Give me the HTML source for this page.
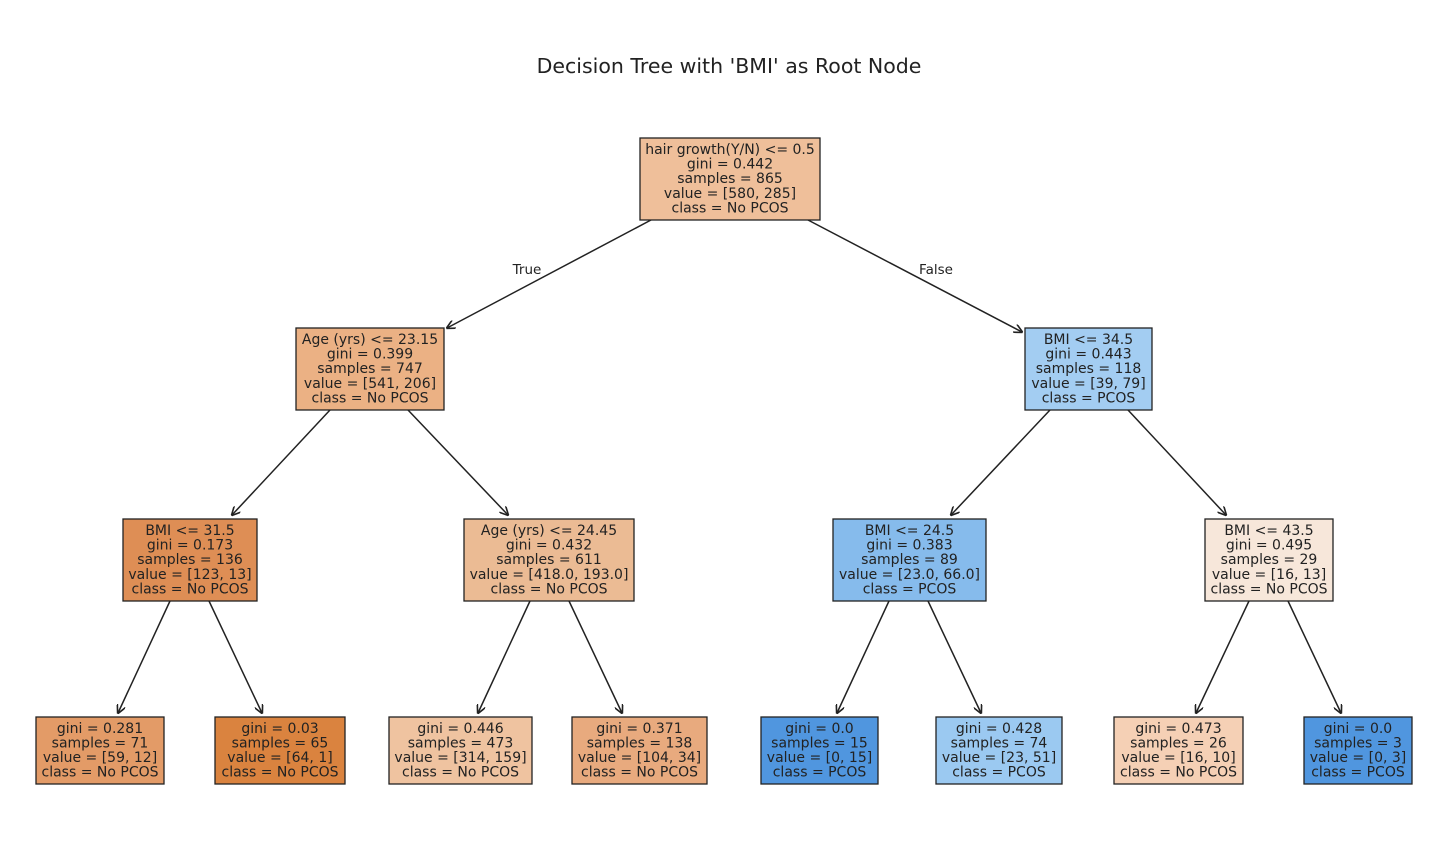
<!DOCTYPE html>
<html><head><meta charset="utf-8"><style>
html,body{margin:0;padding:0;background:#fff;}
svg{display:block;}
text{font-family:"DejaVu Sans","Liberation Sans",sans-serif;fill:#222;}
</style></head><body>
<svg width="1452" height="844" viewBox="0 0 1452 844" xmlns="http://www.w3.org/2000/svg">
<defs><marker id="a" viewBox="0 0 10 10" refX="9" refY="5" markerWidth="9" markerHeight="9" orient="auto-start-reverse" markerUnits="userSpaceOnUse"><path d="M0,0 L10,5 L0,10" fill="none" stroke="#222" stroke-width="1.8"/></marker></defs>
<rect width="1452" height="844" fill="#fff"/>
<text x="729" y="73" font-size="20.5" text-anchor="middle">Decision Tree with 'BMI' as Root Node</text>
<g stroke="#222" stroke-width="1.5" marker-end="url(#a)">
<line x1="651" y1="220" x2="447" y2="328"/>
<line x1="808" y1="220" x2="1022" y2="332"/>
<line x1="330" y1="410" x2="232" y2="515"/>
<line x1="408" y1="410" x2="508" y2="515"/>
<line x1="1050" y1="410" x2="951" y2="515"/>
<line x1="1128" y1="410" x2="1226" y2="515"/>
<line x1="170" y1="601" x2="118" y2="713"/>
<line x1="209" y1="601" x2="262" y2="713"/>
<line x1="530" y1="601" x2="478" y2="713"/>
<line x1="569" y1="601" x2="622" y2="713"/>
<line x1="889" y1="601" x2="837" y2="713"/>
<line x1="928" y1="601" x2="981" y2="713"/>
<line x1="1249" y1="601" x2="1196" y2="713"/>
<line x1="1288" y1="601" x2="1341" y2="713"/>
</g>
<text x="527" y="274" font-size="13.5" text-anchor="middle">True</text>
<text x="936" y="274" font-size="13.5" text-anchor="middle">False</text>
<g stroke="#222" stroke-width="1.3">
<rect x="640" y="138" width="180" height="82" fill="#efbf9a"/>
<rect x="296" y="328" width="148" height="82" fill="#ebb184"/>
<rect x="1025" y="328" width="127" height="82" fill="#a3cdf2"/>
<rect x="123" y="519" width="134" height="82" fill="#de8e55"/>
<rect x="464" y="519" width="170" height="82" fill="#ebbb94"/>
<rect x="833" y="519" width="153" height="82" fill="#86bbec"/>
<rect x="1205" y="519" width="128" height="82" fill="#f7e7da"/>
<rect x="36" y="717" width="128" height="67" fill="#e39b67"/>
<rect x="215" y="717" width="130" height="67" fill="#da833f"/>
<rect x="389" y="717" width="143" height="67" fill="#efc3a0"/>
<rect x="572" y="717" width="135" height="67" fill="#e8aa7e"/>
<rect x="761" y="717" width="117" height="67" fill="#5096df"/>
<rect x="936" y="717" width="126" height="67" fill="#9bc9f1"/>
<rect x="1114" y="717" width="129" height="67" fill="#f5d0b5"/>
<rect x="1304" y="717" width="108" height="67" fill="#5096df"/>
</g>
<g font-size="14" text-anchor="middle">
<text x="730" y="154">hair growth(Y/N) &lt;= 0.5</text><text x="730" y="168.5">gini = 0.442</text><text x="730" y="183">samples = 865</text><text x="730" y="198">value = [580, 285]</text><text x="730" y="212.5">class = No PCOS</text>
<text x="370" y="344">Age (yrs) &lt;= 23.15</text><text x="370" y="358.5">gini = 0.399</text><text x="370" y="373">samples = 747</text><text x="370" y="388">value = [541, 206]</text><text x="370" y="402.5">class = No PCOS</text>
<text x="1088.5" y="344">BMI &lt;= 34.5</text><text x="1088.5" y="358.5">gini = 0.443</text><text x="1088.5" y="373">samples = 118</text><text x="1088.5" y="388">value = [39, 79]</text><text x="1088.5" y="402.5">class = PCOS</text>
<text x="190" y="535">BMI &lt;= 31.5</text><text x="190" y="549.5">gini = 0.173</text><text x="190" y="564">samples = 136</text><text x="190" y="579">value = [123, 13]</text><text x="190" y="593.5">class = No PCOS</text>
<text x="549" y="535">Age (yrs) &lt;= 24.45</text><text x="549" y="549.5">gini = 0.432</text><text x="549" y="564">samples = 611</text><text x="549" y="579">value = [418.0, 193.0]</text><text x="549" y="593.5">class = No PCOS</text>
<text x="909.5" y="535">BMI &lt;= 24.5</text><text x="909.5" y="549.5">gini = 0.383</text><text x="909.5" y="564">samples = 89</text><text x="909.5" y="579">value = [23.0, 66.0]</text><text x="909.5" y="593.5">class = PCOS</text>
<text x="1269" y="535">BMI &lt;= 43.5</text><text x="1269" y="549.5">gini = 0.495</text><text x="1269" y="564">samples = 29</text><text x="1269" y="579">value = [16, 13]</text><text x="1269" y="593.5">class = No PCOS</text>
<text x="100" y="733">gini = 0.281</text><text x="100" y="747.5">samples = 71</text><text x="100" y="762">value = [59, 12]</text><text x="100" y="776.5">class = No PCOS</text>
<text x="280" y="733">gini = 0.03</text><text x="280" y="747.5">samples = 65</text><text x="280" y="762">value = [64, 1]</text><text x="280" y="776.5">class = No PCOS</text>
<text x="460.5" y="733">gini = 0.446</text><text x="460.5" y="747.5">samples = 473</text><text x="460.5" y="762">value = [314, 159]</text><text x="460.5" y="776.5">class = No PCOS</text>
<text x="639.5" y="733">gini = 0.371</text><text x="639.5" y="747.5">samples = 138</text><text x="639.5" y="762">value = [104, 34]</text><text x="639.5" y="776.5">class = No PCOS</text>
<text x="819.5" y="733">gini = 0.0</text><text x="819.5" y="747.5">samples = 15</text><text x="819.5" y="762">value = [0, 15]</text><text x="819.5" y="776.5">class = PCOS</text>
<text x="999" y="733">gini = 0.428</text><text x="999" y="747.5">samples = 74</text><text x="999" y="762">value = [23, 51]</text><text x="999" y="776.5">class = PCOS</text>
<text x="1178.5" y="733">gini = 0.473</text><text x="1178.5" y="747.5">samples = 26</text><text x="1178.5" y="762">value = [16, 10]</text><text x="1178.5" y="776.5">class = No PCOS</text>
<text x="1358" y="733">gini = 0.0</text><text x="1358" y="747.5">samples = 3</text><text x="1358" y="762">value = [0, 3]</text><text x="1358" y="776.5">class = PCOS</text>
</g>
</svg>
</body></html>
